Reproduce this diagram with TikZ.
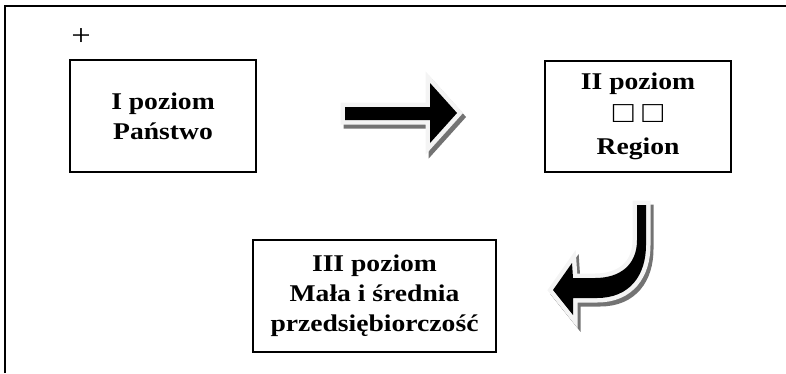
\documentclass[tikz,border=0pt]{standalone}
\usepackage{fontspec}
\setmainfont{Liberation Serif}[FakeStretch=1.15]
\usepackage{tikz}

\begin{document}
\begin{tikzpicture}[x=1pt,y=-1pt,
	poziom/.style={draw,line width=1.1pt,align=center,inner sep=0pt,font=\fontsize{24}{30}\selectfont\bfseries},
	cien/.style={draw=black!55,fill=black!55,line width=9pt,line join=miter},
	obwodka/.style={draw=gray!9,fill=gray!9,line width=9pt,line join=miter},
	wnetrze/.style={fill=black}]
	\useasboundingbox (0,0) rectangle (786,373);
	%\draw[help lines] (0,0) grid[step=50] (786,373);
	\draw[line width=2pt] (5,373) -- (5,6) -- (786,6);
	\node[font=\fontsize{30}{30}\selectfont] (plus) at (81,37.5) {+};
	\node[poziom,minimum width=186pt,minimum height=112pt] (panstwo) at (163,116)
		{I poziom\\Państwo};
	\node[poziom,minimum width=186pt,minimum height=111pt,font=\fontsize{24}{32.5}\selectfont\bfseries] (region) at (638,116.5)
		{II poziom\\{\mdseries\fontsize{30}{32.5}\selectfont □ □}\\Region};
	\node[poziom,minimum width=243pt,minimum height=112pt] (msp) at (374.5,296)
		{III poziom\\Mała i średnia\\przedsiębiorczość};
	% strzalka prosta
	\path[cien,shift={(3,4)}] (345,107) -- (430,107) -- (430,83) -- (457,113) -- (430,143) -- (430,120) -- (345,120) -- cycle;
	\path[obwodka] (345,107) -- (430,107) -- (430,83) -- (457,113) -- (430,143) -- (430,120) -- (345,120) -- cycle;
	\path[wnetrze] (345,107) -- (430,107) -- (430,83) -- (457,113) -- (430,143) -- (430,120) -- (345,120) -- cycle;
	% strzalka zakrecona
	\path[cien,shift={(3,4)}] (637,205) -- (637,240) .. controls (637,265) and (620,278) .. (595,278) -- (573,278) -- (572,263) -- (553,290) -- (573,315) -- (573,298) -- (597,298) .. controls (630,298) and (646,275) .. (646,245) -- (646,205) -- cycle;
	\path[obwodka] (637,205) -- (637,240) .. controls (637,265) and (620,278) .. (595,278) -- (573,278) -- (572,263) -- (553,290) -- (573,315) -- (573,298) -- (597,298) .. controls (630,298) and (646,275) .. (646,245) -- (646,205) -- cycle;
	\path[wnetrze] (637,205) -- (637,240) .. controls (637,265) and (620,278) .. (595,278) -- (573,278) -- (572,263) -- (553,290) -- (573,315) -- (573,298) -- (597,298) .. controls (630,298) and (646,275) .. (646,245) -- (646,205) -- cycle;
\end{tikzpicture}
\end{document}
